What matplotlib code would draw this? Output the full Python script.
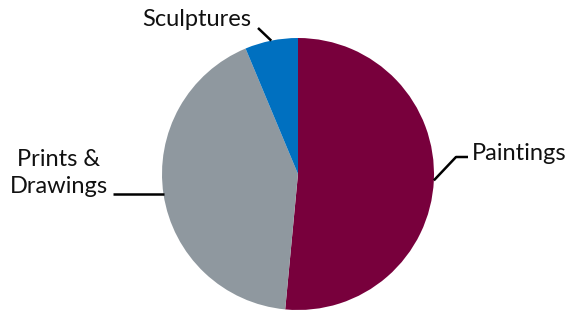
import numpy as np
import matplotlib.pyplot as plt

labels = ['Paintings', 'Prints &\nDrawings', 'Sculptures']
values = [51.5, 42.2, 6.3]
colors = ['#78003C', '#8F989F', '#0070C0']

plt.rcParams['font.family'] = ['Lato', 'DejaVu Sans']

fig = plt.figure(figsize=(5.72, 3.11), dpi=100)
ax = fig.add_axes([0, 0, 1, 1])

cx, cy, r = 298, 137, 136
wedges, _ = ax.pie(values, colors=colors, startangle=90, counterclock=False,
                   center=(cx, cy), radius=r, frame=True)
ax.set_xlim(0, 572)
ax.set_ylim(0, 311)
ax.set_aspect('equal')
ax.axis('off')

# label text positions and leader points (pixels, y up)
text_pos = [(472, 158), (59, 138), (197, 291)]
elbows = [(456, 154), None, None]
ends = [(468, 154), (113, None), (258, 283)]
has = ['left', 'center', 'center']

for w, lab, tp, el, en, ha in zip(wedges, labels, text_pos, elbows, ends, has):
    mid = np.deg2rad((w.theta1 + w.theta2) / 2)
    ax_pt = (cx + r * np.cos(mid), cy + r * np.sin(mid))
    en = (en[0], ax_pt[1] if en[1] is None else en[1])
    pts = [ax_pt] + ([el] if el else []) + [en]
    xs, ys = zip(*pts)
    ax.plot(xs, ys, color='black', lw=1.8, solid_capstyle='butt')
    ax.text(tp[0], tp[1], lab, ha=ha, va='center', fontsize=17,
            linespacing=1.3, color='#111111')

fig.savefig('out.png', dpi=100)
